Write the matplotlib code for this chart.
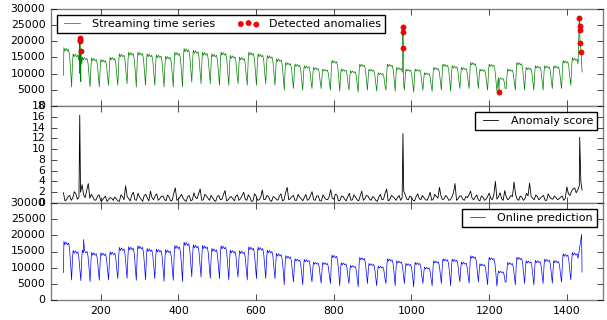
import numpy as np
import matplotlib
matplotlib.use('Agg')
import matplotlib.pyplot as plt

plt.style.use('classic')
plt.rcParams['font.family'] = ['DejaVu Sans']

# ---------------- data ----------------
t_start, t_end = 104, 1439
first_trough_t, day_len = 125, 23.8

# streaming series: daytime plateau level of each day and the night trough
stream_plateau = [17500, 15700, 14700, 14400, 14000, 14700, 15700, 16200, 16200, 15700,
                  15400, 15000, 16200,
                  17300, 16800, 16200, 15700, 16200, 15200, 14700, 16200, 15700, 15200,
                  14200, 13100, 12600, 12100, 11600,
                  11100, 13700, 11100, 10600, 12600, 11100, 10000, 12600, 11600, 11100,
                  11100, 10000, 11600, 12600, 12100,
                  11600, 13100, 11100, 12600, 8500, 11100, 13100, 11600, 12100, 12100,
                  12100, 13700, 14500]
stream_trough = [5900, 7500, 5900, 5900, 6400, 6400, 6900, 5900, 6400, 6400, 5900, 5900, 5900,
                 7400, 6900, 6900, 6400, 6400, 6900, 6400, 6400, 6900, 6400, 4900, 5400, 4900, 5400,
                 5400, 4900, 4600, 4900, 4300, 4900, 4600, 4900, 4600, 4900, 4300, 4900, 4600, 4900, 4600,
                 5400, 5400, 5400, 4900, 4700, 5400, 4900, 4900, 4900, 4900, 5400, 5400, 6400]
stream_first, stream_last = 9500, 10500

# detected anomalies
anom_t = [146, 146, 147, 149, 978, 978, 979, 1225, 1432, 1433, 1433, 1434, 1437]
anom_v = [21100, 20400, 20000, 17000, 24300, 22800, 18000, 4460, 27200, 24600, 23600, 19500, 16550]

# online prediction
pred_plateau = [17600, 14900, 15000, 14300, 14200, 14500, 15800, 16000, 16300, 15500,
                15300, 15100, 16400,
                17400, 16600, 16400, 15500, 16300, 15000, 14800, 16000, 15900, 15000,
                14000, 13300, 12400, 12200, 11400,
                11300, 13500, 11200, 10400, 12800, 11000, 10200, 12400, 11800, 11000,
                11300, 9900, 11800, 12400, 12300,
                11400, 13300, 10900, 12800, 8700, 11300, 12900, 11800, 11900, 12300,
                11900, 13900, 14300]
pred_trough = [6200, 6000, 5700, 6100, 6200, 6600, 6700, 6100, 6200, 6600, 5800, 6100, 5700,
               7200, 7100, 6700, 6600, 6200, 7100, 6200, 6600, 6700, 6600, 4700, 5600, 4700, 5600,
               5200, 5100, 4400, 5100, 4100, 5100, 4400, 5100, 4400, 5100, 4100, 5100, 4400, 5100, 4400,
               5600, 5200, 5600, 4700, 4300, 5600, 4700, 5100, 4700, 5100, 5200, 5600, 6200]
pred_first, pred_last = 8500, 8600
pred_spike_t = [156, 1438]
pred_spike_v = [18700, 20300]

# anomaly score, one value every 8 steps from t=104 ...
score_base = [1.9, 0.6, 1.4, 0.9, 1.7, 1.1, 3.4, 1.0, 3.6, 1.6, 0.5, 1.3, 0.4, 0.9, 0.3, 1.0,
              0.5, 0.8, 0.3, 1.2, 3.2, 0.8, 1.5, 0.6, 1.8, 0.7, 1.4, 0.9, 2.2, 0.6, 1.7, 0.8,
              1.3, 0.4, 1.1, 0.5, 2.8, 0.7, 1.6, 0.5, 1.2, 0.4, 1.9, 0.8, 2.6, 0.6, 1.3, 0.5,
              1.0, 0.3, 1.4, 0.7, 2.3, 0.6, 1.2, 0.4, 1.5, 0.8, 2.0, 0.5, 1.1, 0.4, 1.3, 0.6,
              2.4, 0.7, 1.2, 0.3, 1.0, 0.5, 1.7, 0.6, 2.9, 0.8, 1.4, 0.5, 1.1, 0.4, 1.6, 0.7,
              2.1, 0.5, 1.3, 0.4, 1.0, 0.6, 2.5, 0.7, 1.5, 0.5, 1.2, 0.4, 1.8, 0.6, 1.1, 0.4,
              2.2, 0.8, 1.3, 0.5, 1.0, 0.3, 1.6, 0.7, 2.6, 0.6, 1.2, 0.5, 1.4, 1.0, 1.5, 0.6,
              1.1, 0.4, 1.7, 0.6, 1.0, 0.5, 2.0, 0.7, 1.2, 2.9, 0.6, 1.4, 0.5, 1.1, 3.6, 0.8,
              1.3, 0.5, 1.0, 2.2, 0.6, 1.5, 0.4, 1.1, 0.7, 1.8, 0.6, 4.0, 1.2, 0.8, 2.3, 0.6,
              1.4, 3.9, 0.7, 1.3, 0.5, 1.8, 3.7, 0.9, 1.5, 0.6, 1.2, 0.5, 1.7, 0.8, 1.3, 0.6,
              1.1, 0.5, 3.0, 1.4, 2.6, 1.9, 3.2]
# ... and the values halfway between them (t=108, 116, ...)
score_mid = [0.4, 1.2, 0.5, 2.1, 0.7, 2.0, 1.5, 2.4, 0.9, 1.1, 0.6, 1.5, 0.5, 1.3, 0.6, 0.9,
             1.1, 0.4, 1.5, 0.6, 1.2, 0.4, 2.0, 0.5, 1.1, 0.3, 1.6, 0.4, 1.0, 1.3, 0.5, 1.2,
             0.7, 1.5, 0.4, 1.8, 0.5, 1.1, 0.9, 0.3, 1.4, 0.6, 1.0, 1.7, 0.5, 1.6, 0.9, 1.4,
             0.5, 1.2, 0.6, 1.6, 0.4, 1.0, 0.8, 1.3, 0.5, 1.4, 0.7, 1.5, 0.3, 1.7, 0.5, 1.1,
             0.6, 1.4, 0.5, 1.2, 0.7, 1.3, 0.4, 1.9, 0.6, 1.2, 0.5, 1.6, 0.8, 1.0, 0.5, 1.4,
             0.6, 1.3, 0.4, 1.5, 0.7, 1.1, 0.9, 1.6, 0.4, 1.3, 0.7, 1.2, 0.5, 1.5, 0.6, 1.3,
             0.5, 1.4, 0.7, 1.2, 0.5, 1.1, 0.6, 1.8, 0.4, 1.4, 0.9, 1.0, 0.5, 2.2, 0.7, 1.3,
             0.5, 1.2, 0.8, 1.4, 0.6, 1.1, 0.5, 1.6, 0.9, 1.3, 0.8, 1.1, 0.6, 1.9, 0.5, 1.3,
             0.7, 1.2, 1.5, 0.9, 1.1, 0.6, 1.3, 0.5, 1.2, 0.9, 1.5, 0.7, 1.9, 0.5, 1.1, 0.9,
             1.2, 1.6, 0.5, 1.1, 0.8, 1.3, 1.2, 0.6, 1.2, 0.9, 1.4, 0.5, 1.1, 0.7, 1.0, 0.8,
             1.3, 0.9, 1.7, 2.2, 2.8, 2.4]
score_step = 8
score_event_t = [146, 978, 1433, 1436, 1439]
score_event_v = [16.3, 12.9, 12.2, 4.0, 2.4]

# within-day profile (offset after trough, fraction of plateau level)
day_shape = [(2.5, 0.88), (4.0, 1.03), (6.5, 0.97), (9.5, 1.02), (13.0, 0.97),
             (16.0, 1.0), (18.5, 0.9), (21.3, 0.64)]


def day_series(plateau, trough, first, last, extra_t, extra_v, cut=1430):
    troughs_t = first_trough_t + day_len * np.arange(len(trough))
    xs, ys = [t_start], [first]
    for off, f in day_shape[1:]:
        t = troughs_t[0] - day_len + off
        if t > t_start + 1:
            xs.append(t); ys.append(plateau[0] * f)
    for k in range(len(trough)):
        xs.append(troughs_t[k]); ys.append(trough[k])
        for off, f in day_shape:
            t = troughs_t[k] + off
            if t < cut:
                xs.append(t); ys.append(plateau[k + 1] * f)
    xs.append(t_end); ys.append(last)
    xs = np.concatenate([xs, extra_t]); ys = np.concatenate([ys, extra_v])
    order = np.argsort(xs, kind='stable')
    return xs[order], ys[order]


sx, sy = day_series(stream_plateau, stream_trough, stream_first, stream_last, anom_t, anom_v)
px_, py_ = day_series(pred_plateau, pred_trough, pred_first, pred_last, pred_spike_t, pred_spike_v)

score_t = t_start + score_step * np.arange(len(score_base))
score_tm = t_start + score_step / 2 + score_step * np.arange(len(score_mid))
ax_t = np.concatenate([score_t, score_tm, score_event_t])
ax_v = np.concatenate([score_base, score_mid, score_event_v])
o = np.argsort(ax_t, kind='stable')
ax_t, ax_v = ax_t[o], ax_v[o]

# ---------------- figure ----------------
fig = plt.figure(figsize=(6.07, 3.20), dpi=100)
fig.patch.set_facecolor('white')
left, right, top, bottom = 51 / 607, 603 / 607, 1 - 9 / 320, 1 - 300 / 320
h = (top - bottom) / 3
axes = [fig.add_axes([left, bottom + (2 - i) * h, right - left, h]) for i in range(3)]
a1, a2, a3 = axes

a1.plot(sx, sy, color='g', lw=0.5, label='Streaming time series')
a1.scatter(anom_t, anom_v, s=14, c='r', edgecolors='#c00000', linewidths=0.4,
           zorder=3, label='Detected anomalies')
a1.set_ylim(0, 30000)
a1.set_yticks(np.arange(0, 30001, 5000))
a1.legend(loc='upper left', ncol=2, fontsize=8, scatterpoints=3, borderaxespad=0.5)

a2.plot(ax_t, ax_v, color='k', lw=0.6, label='Anomaly score')
a2.set_ylim(0, 18)
a2.set_yticks(np.arange(0, 19, 2))
a2.legend(loc='upper right', fontsize=8)

a3.plot(px_, py_, color='b', lw=0.5, label='Online prediction')
a3.set_ylim(0, 30000)
a3.set_yticks(np.arange(0, 30001, 5000))
a3.legend(loc='upper right', fontsize=8)

for a in axes:
    a.set_xlim(72, 1493)
    a.set_xticks(np.arange(200, 1401, 200))
    a.tick_params(labelsize=7.8, direction='in', length=4)
    for sp in a.spines.values():
        sp.set_color('#808080')
a1.tick_params(labelbottom=False)
a2.tick_params(labelbottom=False)

fig.savefig('out.png', dpi=100, facecolor='white')
